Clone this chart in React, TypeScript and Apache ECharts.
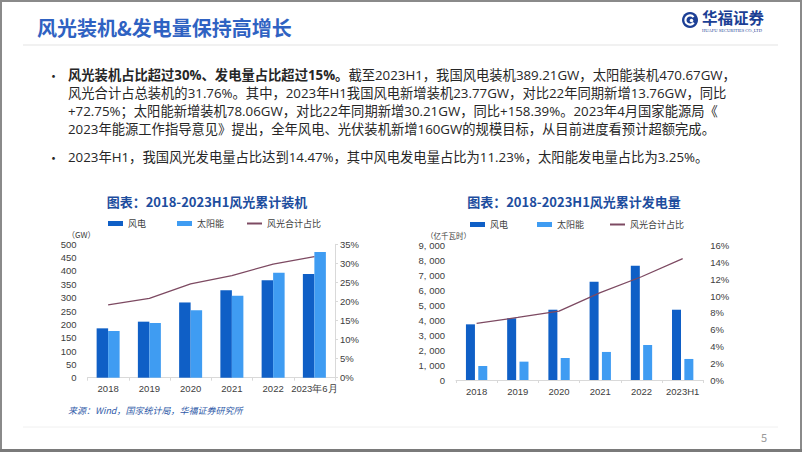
import React, { useEffect, useRef } from "react";
import * as echarts from "echarts";

const capCategories = ["2018", "2019", "2020", "2021", "2022", "2023年6月"];
const capWind = [185, 210, 282, 328, 365, 389];
const capSolar = [175, 205, 253, 307, 393, 471];
const capShare = [19.1, 20.8, 24.6, 26.8, 29.8, 31.76];

const genCategories = ["2018", "2019", "2020", "2021", "2022", "2023H1"];
const genWind = [3730, 4140, 4710, 6590, 7660, 4710];
const genSolar = [940, 1230, 1475, 1880, 2345, 1410];
const genShare = [6.75, 7.45, 8.2, 10.4, 12.3, 14.47];

const seriesNames = ["风电", "太阳能", "风光合计占比"];

const WIND = "#0f5fc6";
const SOLAR = "#3f9cf2";
const LINE = "#7d4a62";
const CJK = '"Noto Sans CJK SC", "Noto Sans", sans-serif';
const BODY = '"Open Sans", "Noto Sans CJK SC", sans-serif';
const NARROW = '"Liberation Sans Narrow", "Arial Narrow", "Liberation Sans", sans-serif';

const bodyLines = [
  { y: 75, rich: true, bold: "风光装机占比超过30%、发电量占比超过15%。", text: "截至2023H1，我国风电装机389.21GW，太阳能装机470.67GW，" },
  { y: 93, text: "风光合计占总装机的31.76%。其中，2023年H1我国风电新增装机23.77GW，对比22年同期新增13.76GW，同比" },
  { y: 111, text: "+72.75%；太阳能新增装机78.06GW，对比22年同期新增30.21GW，同比+158.39%。2023年4月国家能源局《" },
  { y: 129, text: "2023年能源工作指导意见》提出，全年风电、光伏装机新增160GW的规模目标，从目前进度看预计超额完成。" },
  { y: 157, text: "2023年H1，我国风光发电量占比达到14.47%，其中风电发电量占比为11.23%，太阳能发电量占比为3.25%。" },
];

export default function App() {
  const ref = useRef<HTMLDivElement>(null);
  useEffect(() => {
    document.body.style.margin = "0";
    const chart = echarts.init(ref.current!, null, { renderer: "svg" });
    const axisLabel = { fontFamily: NARROW, fontSize: 9.5, color: "#404040" };
    const legendBase = {
      itemWidth: 15,
      itemHeight: 5,
      textStyle: { fontFamily: CJK, fontSize: 9, color: "#404040" },
      padding: 0,
    };
    const graphics: any[] = [];
    graphics.push(
      { type: "rect", shape: { x: 0, y: 0, width: 802, height: 2 }, style: { fill: "#8a8a8a" } },
      { type: "rect", shape: { x: 0, y: 0, width: 2, height: 452 }, style: { fill: "#8a8a8a" } },
      { type: "rect", shape: { x: 800, y: 0, width: 2, height: 452 }, style: { fill: "#8a8a8a" } },
      { type: "rect", shape: { x: 0, y: 449, width: 802, height: 3 }, style: { fill: "#7a7a7a" } },
      { type: "line", shape: { x1: 23, y1: 45, x2: 778, y2: 45 }, style: { stroke: "#e3e3e3", lineWidth: 1 } },
      { type: "line", shape: { x1: 23, y1: 427, x2: 778, y2: 427 }, style: { stroke: "#f0f0f0", lineWidth: 1 } },
      {
        type: "text", x: 37, y: 27,
        style: { text: "风光装机&发电量保持高增长", font: `bold 20px ${CJK}`, fill: "#2f62c2", verticalAlign: "middle" },
      },
      // logo
      { type: "circle", shape: { cx: 690, cy: 20, r: 8 }, style: { fill: "#1c3f95" } },
      { type: "arc", shape: { cx: 690, cy: 20, r: 4.6, startAngle: 0.6, endAngle: 5.6 }, style: { stroke: "#fff", lineWidth: 2.2, fill: "none" } },
      { type: "circle", shape: { cx: 691.5, cy: 20.5, r: 1.8 }, style: { fill: "#fff" } },
      {
        type: "text", x: 702, y: 17,
        style: { text: "华福证券", font: `bold 15.5px ${CJK}`, fill: "#1c3f95", verticalAlign: "middle", lineHeight: 16 },
      },
      {
        type: "text", x: 702, y: 30,
        style: { text: "HUAFU SECURITIES CO.,LTD", font: `4.5px "Liberation Serif", serif`, fill: "#1c3f95", verticalAlign: "middle", lineHeight: 5 },
      },
      {
        type: "text", x: 207, y: 201,
        style: { text: "图表：2018-2023H1风光累计装机", font: `bold 13px ${CJK}`, fill: "#1d4d9e", align: "center", verticalAlign: "middle" },
      },
      {
        type: "text", x: 574, y: 201,
        style: { text: "图表：2018-2023H1风光累计发电量", font: `bold 13px ${CJK}`, fill: "#1d4d9e", align: "center", verticalAlign: "middle" },
      },
      {
        type: "text", x: 67, y: 234.5,
        style: { text: "（GW）", font: `8px ${CJK}`, fill: "#404040", verticalAlign: "middle", lineHeight: 9 },
      },
      {
        type: "text", x: 426, y: 235,
        style: { text: "（亿千瓦时）", font: `7.5px ${CJK}`, fill: "#404040", verticalAlign: "middle", lineHeight: 8 },
      },
      {
        type: "text", x: 68, y: 410,
        style: { text: "来源：Wind，国家统计局，华福证券研究所", font: `italic 9px ${CJK}`, fill: "#2f5aa8", verticalAlign: "middle" },
      },
      {
        type: "text", x: 764, y: 437,
        style: { text: "5", font: `11px ${CJK}`, fill: "#9a9a9a", align: "center", verticalAlign: "middle" },
      }
    );
    bodyLines.forEach((l: any, i: number) => {
      if (i === 0 || i === 4) {
        graphics.push({
          type: "text", x: 47, y: l.y,
          style: { text: "•", font: `13px ${CJK}`, fill: "#262626", verticalAlign: "middle", lineHeight: 16 },
        });
      }
      graphics.push({
        type: "text", x: 68, y: l.y,
        style: l.rich
          ? {
              text: `{b|${l.bold}}{n|${l.text}}`,
              verticalAlign: "middle",
              rich: {
                b: { font: `bold 13.3px ${BODY}`, fill: "#262626", lineHeight: 16 },
                n: { font: `13.3px ${BODY}`, fill: "#262626", lineHeight: 16 },
              },
            }
          : { text: l.text, font: `13.3px ${BODY}`, fill: "#262626", verticalAlign: "middle", lineHeight: 16 },
      });
    });

    const xAxisCommon = {
      type: "category",
      axisLine: { lineStyle: { color: "#d9d9d9" } },
      axisTick: { show: true, length: 3, lineStyle: { color: "#d9d9d9" } },
      axisLabel: { ...axisLabel, margin: 6, interval: 0 },
    };
    const hidden = { splitLine: { show: false }, axisTick: { show: false }, axisLine: { show: false } };

    chart.setOption({
      animation: false,
      backgroundColor: "#ffffff",
      grid: [
        { left: 87.5, top: 244.3, width: 247.5, height: 133.4 },
        { left: 456, top: 245.7, width: 247.3, height: 134.3 },
      ],
      legend: [
        { ...legendBase, left: 108, top: 219, data: [{ name: seriesNames[0], icon: "rect" }] },
        { ...legendBase, left: 177, top: 219, data: [{ name: seriesNames[1], icon: "rect" }] },
        { ...legendBase, left: 247, top: 219, itemHeight: 2, data: [{ name: seriesNames[2], icon: "rect" }] },
        { ...legendBase, left: 470, top: 220, data: [{ name: seriesNames[0], icon: "rect" }] },
        { ...legendBase, left: 537, top: 220, data: [{ name: seriesNames[1], icon: "rect" }] },
        { ...legendBase, left: 610, top: 220, itemHeight: 2, data: [{ name: seriesNames[2], icon: "rect" }] },
      ],
      xAxis: [
        { ...xAxisCommon, gridIndex: 0, data: capCategories },
        { ...xAxisCommon, gridIndex: 1, data: genCategories },
      ],
      yAxis: [
        { type: "value", gridIndex: 0, min: 0, max: 500, interval: 50, ...hidden, axisLabel: { ...axisLabel, margin: 11 } },
        {
          type: "value", gridIndex: 0, position: "right", min: 0, max: 35, interval: 5,
          splitLine: { show: false },
          axisLine: { show: true, lineStyle: { color: "#d9d9d9" } },
          axisTick: { show: true, length: 3, lineStyle: { color: "#d9d9d9" } },
          axisLabel: { ...axisLabel, margin: 5, formatter: "{value}%" },
        },
        {
          type: "value", gridIndex: 1, min: 0, max: 9000, interval: 1000, ...hidden,
          axisLabel: {
            ...axisLabel, margin: 11,
            formatter: (v: number) => (v >= 1000 ? `${Math.floor(v / 1000)}, ${String(v % 1000).padStart(3, "0")}` : `${v}`),
          },
        },
        {
          type: "value", gridIndex: 1, position: "right", min: 0, max: 16, interval: 2, ...hidden,
          axisLabel: { ...axisLabel, margin: 7, formatter: "{value}%" },
        },
      ],
      series: [
        { name: seriesNames[0], type: "bar", xAxisIndex: 0, yAxisIndex: 0, data: capWind, barWidth: 11.5, barGap: "0%", itemStyle: { color: WIND } },
        { name: seriesNames[1], type: "bar", xAxisIndex: 0, yAxisIndex: 0, data: capSolar, barWidth: 11.5, barGap: "0%", itemStyle: { color: SOLAR } },
        { name: seriesNames[2], type: "line", xAxisIndex: 0, yAxisIndex: 1, data: capShare, symbol: "none", lineStyle: { color: LINE, width: 1.3 }, itemStyle: { color: LINE } },
        { name: seriesNames[0], type: "bar", xAxisIndex: 1, yAxisIndex: 2, data: genWind, barWidth: 9, barGap: "37%", itemStyle: { color: WIND } },
        { name: seriesNames[1], type: "bar", xAxisIndex: 1, yAxisIndex: 2, data: genSolar, barWidth: 9, barGap: "37%", itemStyle: { color: SOLAR } },
        { name: seriesNames[2], type: "line", xAxisIndex: 1, yAxisIndex: 3, data: genShare, symbol: "none", lineStyle: { color: LINE, width: 1.3 }, itemStyle: { color: LINE } },
      ],
      graphic: graphics,
    });
    return () => chart.dispose();
  }, []);
  return <div ref={ref} style={{ position: "absolute", left: 0, top: 0, width: 802, height: 452 }} />;
}
